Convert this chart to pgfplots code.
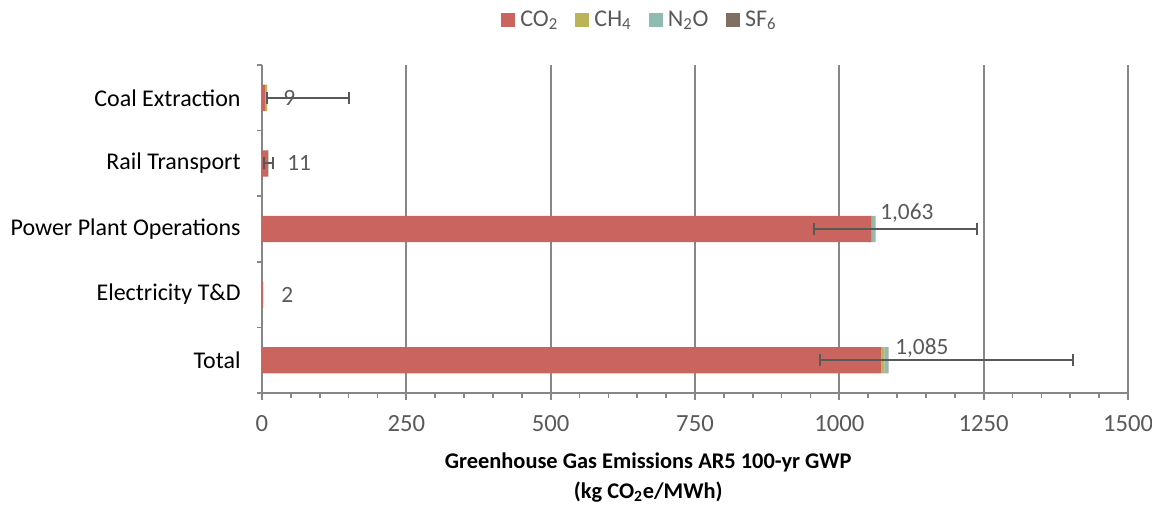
\documentclass[border=0pt]{standalone}
\usepackage{fontspec}
\setmainfont{Carlito}
\usepackage{pgfplots}
\usepackage{pgfplotstable}
\pgfplotsset{compat=1.18}

\definecolor{cotwo}{HTML}{C9645F}
\definecolor{chfour}{HTML}{BBB358}
\definecolor{ntwoo}{HTML}{8FBCB0}
\definecolor{sfsix}{HTML}{807064}
\definecolor{gridgray}{HTML}{878787}
\definecolor{errgray}{HTML}{595959}
\definecolor{txtgray}{HTML}{595959}

% stacked contributions, y: 4 = Coal Extraction ... 0 = Total
\pgfplotstableread{
y co2 ch4 n2o sf6
4 5 3.7 0.3 0
3 10.6 0.2 0.2 0
2 1056 1 6 0
1 1.5 0 0 0.5
0 1073 5 6.5 0.5
}\emis

% totals with uncertainty range
\pgfplotstableread{
y x lo hi
4 9 1 141
3 11 7.5 8
2 1063 107 175
0 1085 118 320
}\errs

% data label positions
\pgfplotstableread{
x y label
36.4 4 9
43.3 3 11
1070.5 2.24 1,063
32.9 1 2
1096.5 0.18 1,085
}\labs

\begin{document}
\begin{tikzpicture}
\path[use as bounding box] (-196.5pt,-87.75pt) rectangle (667.5pt,294.75pt);
\begin{axis}[
    scale only axis,
    width=649.5pt, height=246pt,
    xbar stacked,
    bar width=0.4,
    xmin=0, xmax=1500,
    ymin=-0.5, ymax=4.5,
    axis x line*=bottom,
    axis y line*=left,
    axis line style={draw=gridgray, line width=1.3pt},
    xtick={0,250,...,1500},
    minor x tick num=4,
    ytick={0,1,2,3,4},
    yticklabels={Total, Electricity T\&D, Power Plant Operations, Rail Transport, Coal Extraction},
    minor ytick={-0.5,0.5,1.5,2.5,3.5,4.5},
    tick align=outside,
    major tick length=5pt,
    minor tick length=3.5pt,
    every tick/.style={draw=gridgray, line width=1.3pt},
    major y tick style={draw=none},
    xmajorgrids,
    grid style={draw=gridgray, line width=1.3pt},
    /pgf/number format/assume math mode=true,
    /pgf/number format/set thousands separator={},
    xticklabel style={font=\fontsize{18.5}{21}\selectfont, text=txtgray, yshift=-8pt},
    yticklabel style={font=\fontsize{18}{21}\selectfont, text=black, xshift=-7.5pt},
    xlabel={Greenhouse Gas Emissions AR5 100-yr GWP\\(kg CO\textsubscript{2}e/MWh)},
    xlabel style={font=\fontsize{16.8}{22}\selectfont\bfseries, align=center,
        at={(axis description cs:0.446,0)}, anchor=north, yshift=-41.5pt},
    legend columns=4,
    legend style={draw=none, font=\fontsize{18}{20}\selectfont, text=txtgray,
        at={(0.4365,1)}, anchor=center, yshift=34pt,
        /tikz/every odd column/.append style={column sep=2pt},
        /tikz/every even column/.append style={column sep=11pt}},
    legend image code/.code={\fill[#1] (0pt,-5.2pt) rectangle (10.4pt,5.2pt);},
]
\addplot[fill=cotwo, draw=none] table[x=co2, y=y] {\emis};
\addplot[fill=chfour, draw=none] table[x=ch4, y=y] {\emis};
\addplot[fill=ntwoo, draw=none] table[x=n2o, y=y] {\emis};
\addplot[fill=sfsix, draw=none] table[x=sf6, y=y] {\emis};
\legend{CO\textsubscript{2}, CH\textsubscript{4}, N\textsubscript{2}O, SF\textsubscript{6}}
\end{axis}
\begin{axis}[
    scale only axis,
    width=649.5pt, height=246pt,
    xmin=0, xmax=1500,
    ymin=-0.5, ymax=4.5,
    hide axis, clip=false,
]
\addplot[draw=none, forget plot,
    error bars/.cd, x dir=both, x explicit,
    error bar style={draw=errgray, line width=1.4pt},
    error mark=|,
    error mark options={draw=errgray, line width=1.4pt, mark size=4.5pt}]
    table[x=x, y=y, x error plus=hi, x error minus=lo] {\errs};
\addplot[only marks, mark=none, forget plot,
    nodes near coords, point meta=explicit symbolic,
    every node near coord/.style={anchor=west, inner sep=0pt, text=txtgray,
        font=\fontsize{17.5}{19}\selectfont}]
    table[x=x, y=y, meta=label] {\labs};
\end{axis}
\end{tikzpicture}
\end{document}
